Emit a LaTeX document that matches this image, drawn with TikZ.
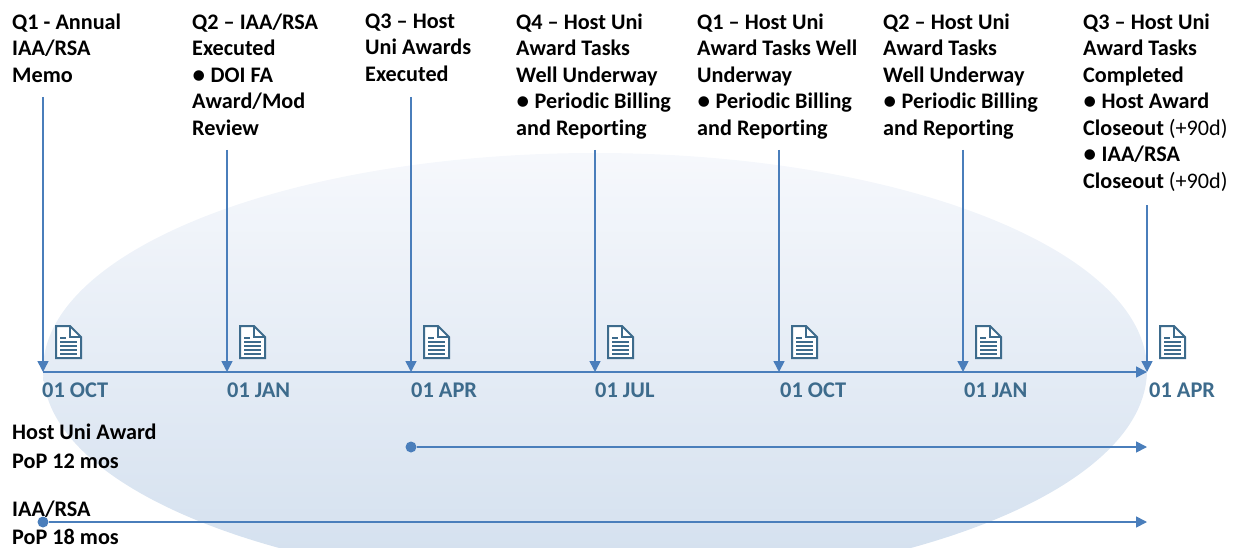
\documentclass[tikz,border=0pt]{standalone}
\usepackage{fontspec}
\setmainfont[Ligatures=CommonOff]{Carlito}
\usetikzlibrary{arrows.meta}
\definecolor{linkblue}{HTML}{4A7EBB}
\definecolor{dateblue}{HTML}{3D6B8C}
\definecolor{ovaltop}{HTML}{F6F8FC}
\definecolor{ovalbottom}{HTML}{D2DFEE}
\tikzset{
	milestone/.style={anchor=north west,inner sep=0pt,align=left,font=\fontsize{22.2}{26.5}\selectfont\bfseries},
	datelabel/.style={anchor=base west,inner sep=0pt,text=dateblue,font=\fontsize{22.4}{24}\selectfont\bfseries},
	poplabel/.style={anchor=north west,inner sep=0pt,align=left,font=\fontsize{22.2}{28.5}\selectfont\bfseries},
	bluearrow/.style={draw=linkblue,line width=1.6pt,-{Triangle[length=11pt,width=11pt]}},
}
% little page symbol, lower left corner at the given place
\newcommand{\docicon}[2]{
	\draw[dateblue,line width=2pt,fill=white,line join=miter] (#1+1,#2) -- (#1+1,#2-32) -- (#1+15,#2-32) -- (#1+26,#2-21) -- (#1+26,#2) -- cycle;
	\draw[dateblue,line width=1.5pt] (#1+15,#2-32) -- (#1+15,#2-21) -- (#1+26,#2-21);
	\draw[dateblue,line width=2pt] (#1+5,#2-20) -- (#1+11,#2-20);
	\foreach \ly in {16,12,8,4}
		\draw[dateblue,line width=2pt] (#1+5,#2-\ly) -- (#1+22,#2-\ly);
}
\begin{document}
\begin{tikzpicture}[x=1pt,y=-1pt]
	\useasboundingbox (0,0) rectangle (1238,548);
	\begin{scope}
		\clip (0,0) rectangle (1238,548);
		\shade[top color=ovaltop,bottom color=ovalbottom] (595,370) ellipse [x radius=552,y radius=217];
	\end{scope}
	% texts on top
	\node[milestone] (q1) at (12,13.5) {Q1 - Annual\\IAA/RSA\\Memo};
	\node[milestone] (q2) at (192,13.5) {Q2 – IAA/RSA\\Executed\\● DOI FA\\Award/Mod\\Review};
	\node[milestone] (q3) at (365,13.5) {Q3 – Host\\Uni Awards\\Executed};
	\node[milestone] (q4) at (516,13.5) {Q4 – Host Uni\\Award Tasks\\Well Underway\\● Periodic Billing\\and Reporting};
	\node[milestone] (q5) at (697,13.5) {Q1 – Host Uni\\Award Tasks Well\\Underway\\● Periodic Billing\\and Reporting};
	\node[milestone] (q6) at (883,13.5) {Q2 – Host Uni\\Award Tasks\\Well Underway\\● Periodic Billing\\and Reporting};
	\node[milestone] (q7) at (1083,13.5) {Q3 – Host Uni\\Award Tasks\\Completed\\● Host Award\\Closeout {\mdseries (+90d)}\\● IAA/RSA\\Closeout {\mdseries (+90d)}};
	% timeline
	\coordinate (start) at (43,372);
	\coordinate (end) at (1147,372);
	\draw[bluearrow] (start) -- (end);
	\foreach \name/\px/\top/\lx/\lab in {a/43/97/42/01 OCT,b/227/150/227/01 JAN,c/411/97/411/01 APR,d/595/150/595/01 JUL,e/779/150/780/01 OCT,f/963/150/964/01 JAN,g/1147/205/1149/01 APR}{
		\coordinate (top\name) at (\px,\top);
		\coordinate (tick\name) at (\px,372);
		\draw[bluearrow] (top\name) -- (tick\name);
		\node[datelabel] (date\name) at (\lx,397) {\lab};
		\docicon{\px+12}{358}
	}
	% periods of performance
	\node[poplabel] (hostpop) at (12,424) {Host Uni Award\\PoP 12 mos};
	\node[poplabel] (iaapop) at (12,500.5) {IAA/RSA\\PoP 18 mos};
	\node[circle,fill=linkblue,inner sep=0pt,minimum size=11pt] (hostdot) at (411,447) {};
	\node[circle,fill=linkblue,inner sep=0pt,minimum size=11pt] (iaadot) at (43,522) {};
	\coordinate (hostend) at (1147,447);
	\coordinate (iaaend) at (1147,522);
	\draw[bluearrow] (hostdot) -- (hostend);
	\draw[bluearrow] (iaadot) -- (iaaend);
\end{tikzpicture}
\end{document}
